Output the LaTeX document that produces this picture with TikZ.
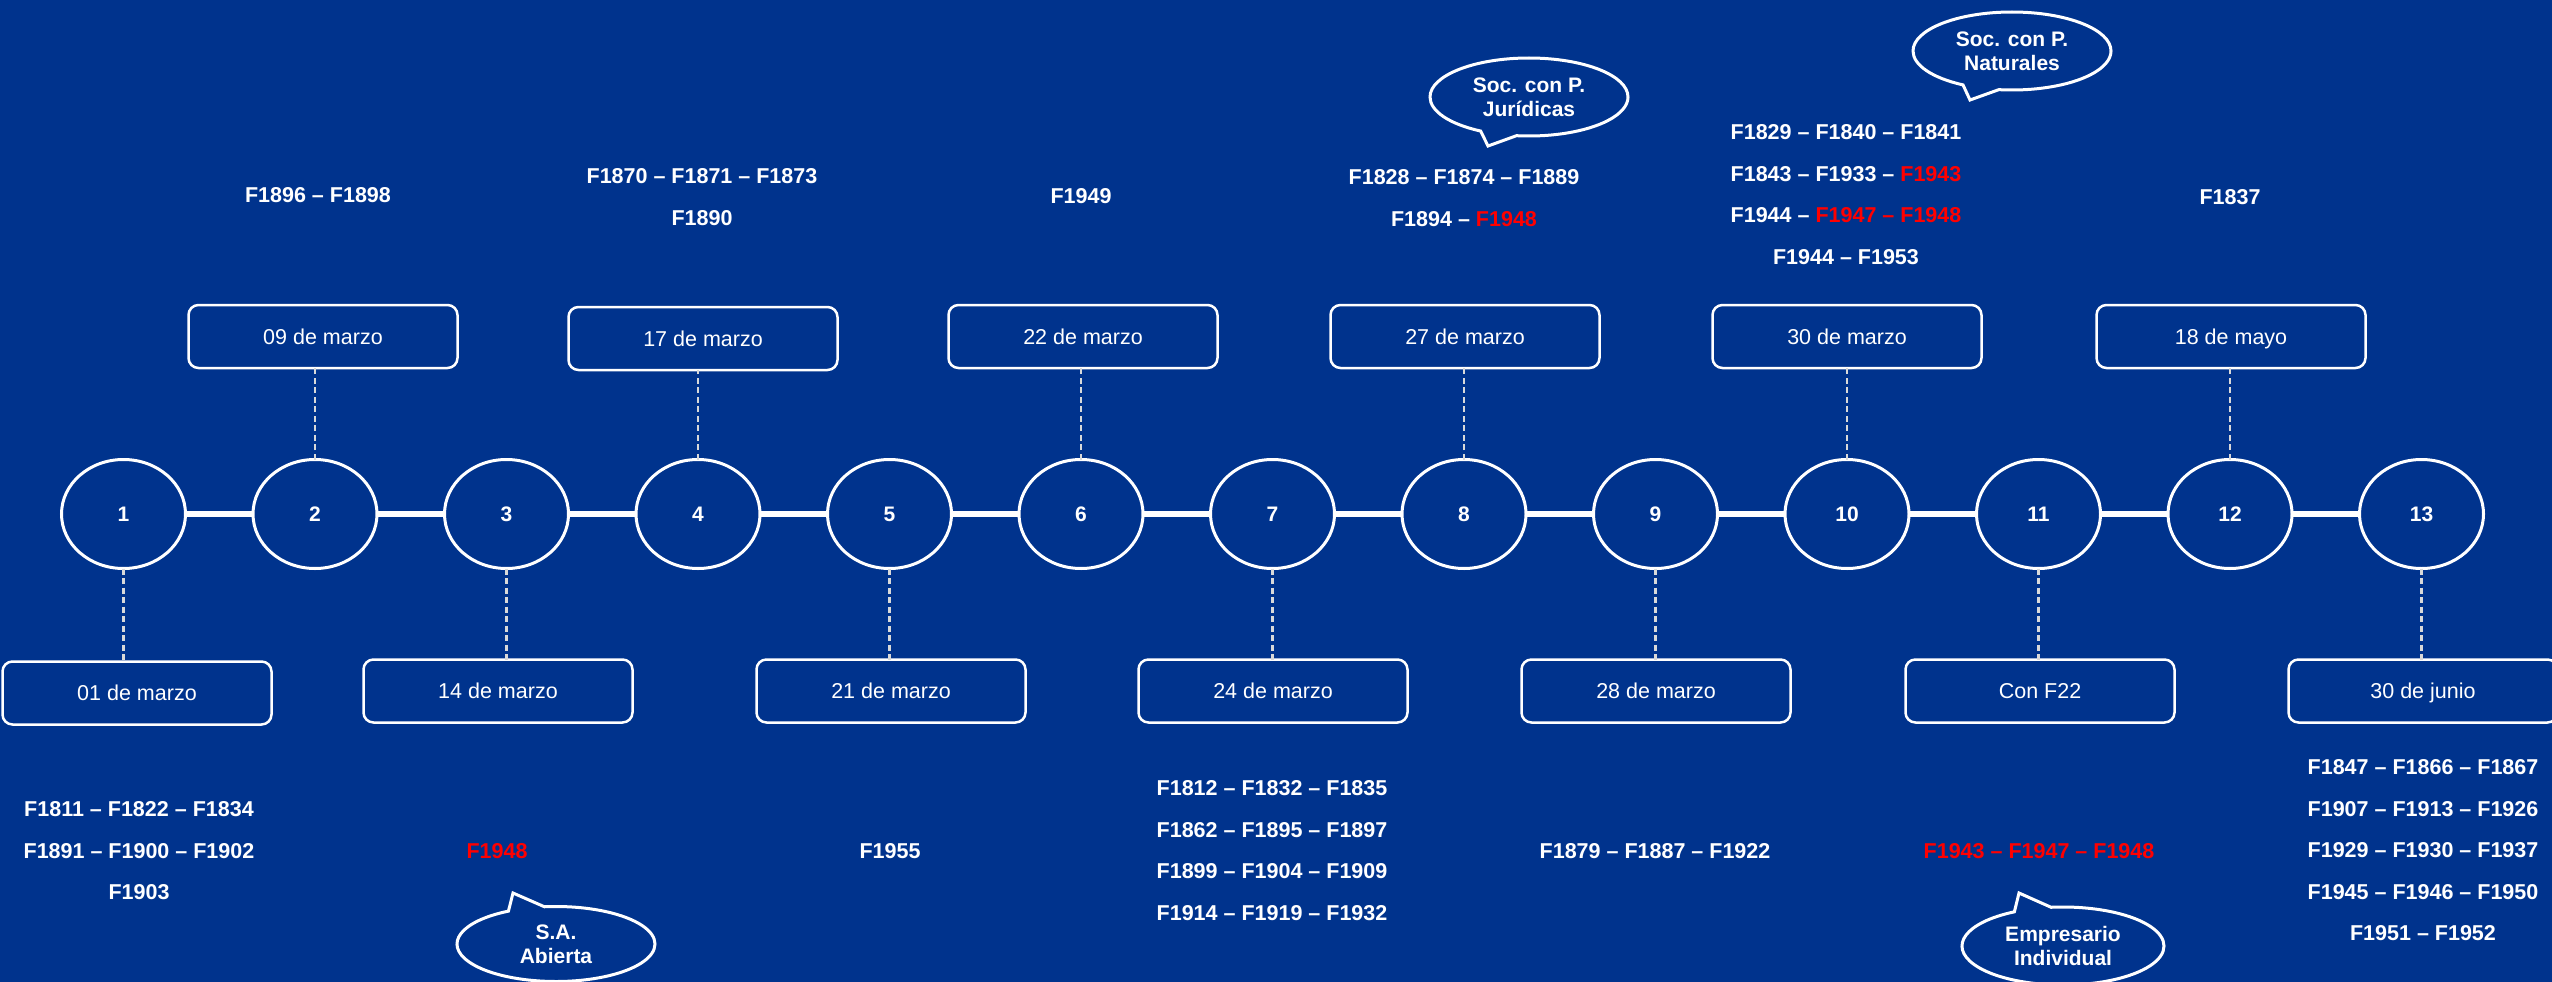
\documentclass[tikz,border=0pt]{standalone}
\usepackage{fontspec}
\setmainfont{Liberation Sans}
\usetikzlibrary{shapes.geometric,shapes.callouts}
\definecolor{navy}{HTML}{00338D}
\definecolor{hot}{HTML}{FF0000}
\definecolor{leader}{HTML}{D9D9D9}

\begin{document}
\begin{tikzpicture}[x=1pt,y=-1pt,
  every node/.style={text=white, inner sep=0pt, outer sep=0pt},
  stage/.style={ellipse, draw=white, line width=3pt, fill=navy,
    minimum width=124pt, minimum height=109pt,
    font=\fontsize{21}{25}\selectfont\bfseries, text depth=0pt},
  datebox/.style={draw=white, line width=2.5pt, rounded corners=10pt, fill=navy,
    minimum width=269pt, minimum height=63pt,
    font=\fontsize{21.5}{26}\selectfont, text depth=0pt},
  forms/.style={font=\fontsize{21.5}{41.5}\selectfont\bfseries, align=center, text depth=0pt},
  bubble/.style={ellipse callout, draw=white, line width=3pt, fill=navy,
    minimum width=198pt, minimum height=78pt, callout pointer arc=22,
    font=\fontsize{21}{24.5}\selectfont\bfseries, align=center, text depth=0pt},
  spine/.style={white, line width=6.5pt},
  tick/.style={leader, line width=2.3pt, dash pattern=on 6pt off 3.5pt}
]
% canvas
\fill[navy] (0,0) rectangle (2552,982);
\useasboundingbox (0,0) rectangle (2552,982);

% numbered stages on the time line
\foreach \i in {1,...,13}
  \node[stage] (c\i) at ({123.5+191.5*(\i-1)},514) {\i};
\foreach \a/\b in {1/2,2/3,3/4,4/5,5/6,6/7,7/8,8/9,9/10,10/11,11/12,12/13}
  \draw[spine] (c\a.east) -- (c\b.west);

% dates above the line
\node[datebox] (t2)  at (323,336.5)  {09 de marzo};
\node[datebox] (t4)  at (703,338.5)  {17 de marzo};
\node[datebox] (t6)  at (1083,336.5) {22 de marzo};
\node[datebox] (t8)  at (1465,336.5) {27 de marzo};
\node[datebox] (t10) at (1847,336.5) {30 de marzo};
\node[datebox] (t12) at (2231,336.5) {18 de mayo};

% dates below the line
\node[datebox] (b1)  at (137,693)  {01 de marzo};
\node[datebox] (b3)  at (498,691)  {14 de marzo};
\node[datebox] (b5)  at (891,691)  {21 de marzo};
\node[datebox] (b7)  at (1273,691) {24 de marzo};
\node[datebox] (b9)  at (1656,691) {28 de marzo};
\node[datebox] (b11) at (2040,691) {Con F22};
\node[datebox] (b13) at (2423,691) {30 de junio};

% dashed leaders
\foreach \i in {2,4,6,8,10,12}
  \draw[tick] (c\i.north) -- (c\i.north |- t\i.south);
\foreach \i in {1,3,5,7,9,11,13}
  \draw[tick] (c\i.south) -- (c\i.south |- b\i.north);

% forms listed above
\node[forms] (f2)  at (318,195)    {F1896 – F1898};
\node[forms] (f4)  at (702,197)    {F1870 – F1871 – F1873\\F1890};
\node[forms] (f6)  at (1081,196)   {F1949};
\node[forms] (f8)  at (1464,198)   {F1828 – F1874 – F1889\\F1894 – \textcolor{hot}{F1948}};
\node[forms] (f10) at (1846,194.5) {F1829 – F1840 – F1841\\F1843 – F1933 – \textcolor{hot}{F1943}\\F1944 – \textcolor{hot}{F1947 – F1948}\\F1944 – F1953};
\node[forms] (f12) at (2230,197)   {F1837};

% forms listed below
\node[forms] (f1)  at (139,850.5)  {F1811 – F1822 – F1834\\F1891 – F1900 – F1902\\F1903};
\node[forms, text=hot] (f3) at (497,851) {F1948};
\node[forms] (f5)  at (890,851)    {F1955};
\node[forms] (f7)  at (1272,850.5) {F1812 – F1832 – F1835\\F1862 – F1895 – F1897\\F1899 – F1904 – F1909\\F1914 – F1919 – F1932};
\node[forms] (f9)  at (1655,851)   {F1879 – F1887 – F1922};
\node[forms, text=hot] (f11) at (2039,851) {F1943 – F1947 – F1948};
\node[forms] (f13) at (2423,850)   {F1847 – F1866 – F1867\\F1907 – F1913 – F1926\\F1929 – F1930 – F1937\\F1945 – F1946 – F1950\\F1951 – F1952};

% speech bubbles
\node[bubble, callout absolute pointer={(1488,146)}] (jur) at (1529,97) {Soc. con P.\\Jurídicas};
\node[bubble, callout absolute pointer={(1970,100)}] (nat) at (2012,51) {Soc. con P.\\Naturales};
\node[bubble, minimum height=75pt, callout absolute pointer={(513,893)}] (sa) at (556,944) {S.A.\\Abierta};
\node[bubble, minimum width=202pt, callout absolute pointer={(2019,893)}] (emp) at (2063,946) {Empresario\\Individual};
\end{tikzpicture}
\end{document}
